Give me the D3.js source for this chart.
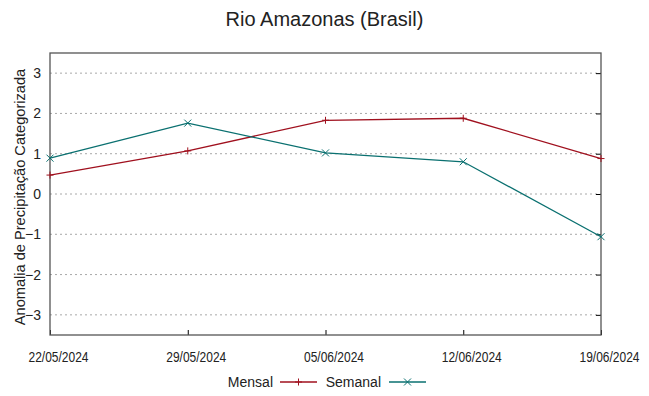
<!DOCTYPE html>
<html>
<head>
<meta charset="utf-8">
<script src="https://cdn.jsdelivr.net/npm/d3@7"></script>
<style>
body { margin: 0; background: #fff; }
text { font-family: "Liberation Sans", Arial, sans-serif; fill: #222; }
</style>
</head>
<body>
<div id="chart-area"></div>
<script>
// data
var dates = ["22/05/2024", "29/05/2024", "05/06/2024", "12/06/2024", "19/06/2024"];
var mensal = [0.47, 1.07, 1.83, 1.88, 0.88];
var semanal = [0.89, 1.76, 1.02, 0.80, -1.06];
var yTicks = [-3, -2, -1, 0, 1, 2, 3];

var width = 649, height = 396;
var margin = {top: 53, right: 48, bottom: 61, left: 50};
var w = width - margin.left - margin.right;
var h = height - margin.top - margin.bottom;

var svg = d3.select("#chart-area").append("svg")
	.attr("width", width)
	.attr("height", height);

var g = svg.append("g")
	.attr("transform", "translate(" + margin.left + "," + margin.top + ")");

var parse = d3.timeParse("%d/%m/%Y");
var x = d3.scaleTime()
	.domain([parse(dates[0]), parse(dates[dates.length - 1])])
	.range([0, w]);
var y = d3.scaleLinear()
	.domain([-3.5, 3.5])
	.range([h, 0]);

// grid
g.selectAll("line.grid").data(yTicks).enter().append("line")
	.attr("class", "grid")
	.attr("x1", 0).attr("x2", w)
	.attr("y1", d => y(d)).attr("y2", d => y(d))
	.attr("stroke", "#a8a8a8")
	.attr("stroke-dasharray", "2,3")
	.attr("stroke-width", 1);

// axes
var leftAxis = d3.axisLeft(y).tickValues(yTicks).tickSize(0).tickPadding(9)
	.tickFormat(d3.format("d"));
g.append("g").call(leftAxis)
	.call(a => a.select(".domain").remove())
	.selectAll("text").attr("font-size", "14px").attr("fill", "#222")
	.style("font-family", "Liberation Sans, Arial, sans-serif");

var rightTicks = d3.axisLeft(y).tickValues(yTicks).tickSize(5).tickFormat("");
g.append("g").attr("transform", "translate(" + w + ",0)").call(rightTicks)
	.call(a => a.select(".domain").remove())
	.selectAll("line").attr("stroke", "#000");

var bottomAxis = d3.axisBottom(x)
	.tickValues(dates.map(parse))
	.tickSize(-5)
	.tickFormat(d3.timeFormat("%d/%m/%Y"));
g.append("g").attr("transform", "translate(0," + h + ")").call(bottomAxis)
	.call(a => a.select(".domain").remove())
	.call(a => a.selectAll("line").attr("stroke", "#000"))
	.selectAll("text")
	.attr("y", 27)
	.attr("dy", 0)
	.attr("x", 8)
	.attr("font-size", "14px")
	.attr("fill", "#222")
	.attr("textLength", 60)
	.attr("lengthAdjust", "spacingAndGlyphs")
	.style("font-family", "Liberation Sans, Arial, sans-serif");

// frame
g.append("rect")
	.attr("width", w).attr("height", h)
	.attr("fill", "none")
	.attr("stroke", "#555")
	.attr("stroke-width", 1.3);

var line = d3.line()
	.x((d, i) => x(parse(dates[i])))
	.y(d => y(d));

var red = "#a0101e", teal = "#0a7070";

function plus(sel, c) {
	sel.append("path").attr("d", "M-3.5,0H3.5M0,-3.5V3.5").attr("stroke", c).attr("stroke-width", 1).attr("fill", "none");
}
function cross(sel, c) {
	sel.append("path").attr("d", "M-3.5,-3.5L3.5,3.5M-3.5,3.5L3.5,-3.5").attr("stroke", c).attr("stroke-width", 1).attr("fill", "none");
}

g.append("path").datum(mensal).attr("d", line)
	.attr("fill", "none").attr("stroke", red).attr("stroke-width", 1.3);
g.selectAll("g.m").data(mensal).enter().append("g")
	.attr("transform", (d, i) => "translate(" + x(parse(dates[i])) + "," + y(d) + ")")
	.each(function() { plus(d3.select(this), red); });

g.append("path").datum(semanal).attr("d", line)
	.attr("fill", "none").attr("stroke", teal).attr("stroke-width", 1.3);
g.selectAll("g.s").data(semanal).enter().append("g")
	.attr("transform", (d, i) => "translate(" + x(parse(dates[i])) + "," + y(d) + ")")
	.each(function() { cross(d3.select(this), teal); });

// title
svg.append("text")
	.attr("x", width / 2).attr("y", 26)
	.attr("text-anchor", "middle")
	.attr("font-size", "20px")
	.text("Rio Amazonas (Brasil)");

// y label
svg.append("text")
	.attr("transform", "translate(25,197) rotate(-90)")
	.attr("text-anchor", "middle")
	.attr("font-size", "14.6px")
	.text("Anomalia de Precipitação Categorizada");

// legend
var legend = [{name: "Mensal", c: red, m: plus, tx: 273, lx: 280},
	{name: "Semanal", c: teal, m: cross, tx: 381, lx: 389}];
legend.forEach(function(l) {
	svg.append("text").attr("x", l.tx).attr("y", 387)
		.attr("text-anchor", "end").attr("font-size", "14px").text(l.name);
	svg.append("line").attr("x1", l.lx).attr("x2", l.lx + 37)
		.attr("y1", 382).attr("y2", 382)
		.attr("stroke", l.c).attr("stroke-width", 1.3);
	var mk = svg.append("g").attr("transform", "translate(" + (l.lx + 18.5) + ",382)");
	l.m(mk, l.c);
});
</script>
</body>
</html>
